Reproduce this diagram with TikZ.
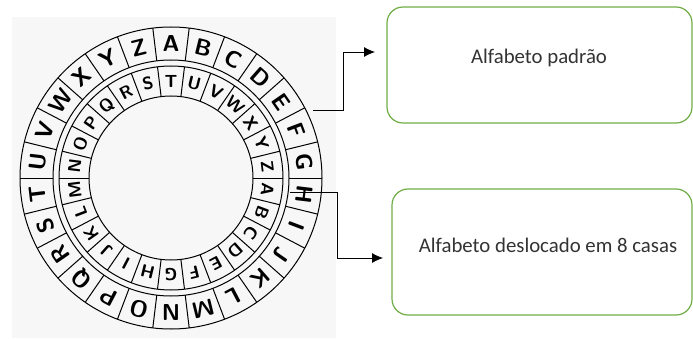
\documentclass[tikz,border=0pt]{standalone}
\usepackage{fontspec}
\newfontfamily\boxfont{Carlito}
\usetikzlibrary{arrows.meta}
\definecolor{boxgreen}{RGB}{112,173,71}
\begin{document}
\begin{tikzpicture}[x=1pt, y=1pt,
    ring/.style={draw=black, line width=1pt},
    ltr/.style={font=\sffamily\bfseries\fontsize{23}{23}\selectfont, inner sep=0pt},
    iltr/.style={font=\sffamily\bfseries\fontsize{17.5}{17.5}\selectfont, inner sep=0pt},
    box/.style={draw=boxgreen, line width=1.2pt, rounded corners=16pt},
    txt/.style={font=\boxfont\fontsize{20.8}{24}\selectfont, text=black!80},
    arr/.style={draw=black, line width=0.8pt, -{Latex[length=11pt,width=10pt]}}
]
    \useasboundingbox (0,0) rectangle (693,338);
    \fill[black!3] (12,0) rectangle (336,321);

    \coordinate (c) at (171,160);
    \draw[ring] (c) circle (151); \draw[ring] (c) circle (118);
    \draw[ring] (c) circle (112); \draw[ring] (c) circle (82);
    \foreach \k in {0,...,25} {
        \draw[ring] ([shift={({90-(\k+0.5)*360/26}:118)}]c) -- ([shift={({90-(\k+0.5)*360/26}:151)}]c);
        \draw[ring] ([shift={({90-(\k+0.5)*360/26}:82)}]c) -- ([shift={({90-(\k+0.5)*360/26}:112)}]c);
    }
    \foreach \l [count=\i from 0] in {A,...,Z} {
        \node[ltr, rotate={-\i*360/26}] (o\i) at ([shift={({90-\i*360/26}:134.5)}]c) {\l};
        \node[iltr, rotate={-(\i+7)*360/26}] (n\i) at ([shift={({90-(\i+7)*360/26}:97)}]c) {\l};
    }

    \node[box, minimum width=305, minimum height=116] (std) at (539.5,273) {};
    \node[txt] (stdtxt) at (539,280) {Alfabeto padrão};
    \node[box, minimum width=300, minimum height=126] (shf) at (542,86) {};
    \node[txt] (shftxt) at (548,93) {Alfabeto deslocado em 8 casas};

    \coordinate (s1) at (313,228); \coordinate (e1) at (375,286);
    \draw[arr] (s1) -- ++(30,0) |- (e1);
    \coordinate (s2) at (290,146); \coordinate (e2) at (383,80);
    \draw[arr] (s2) -- ++(47,0) |- (e2);
\end{tikzpicture}
\end{document}
